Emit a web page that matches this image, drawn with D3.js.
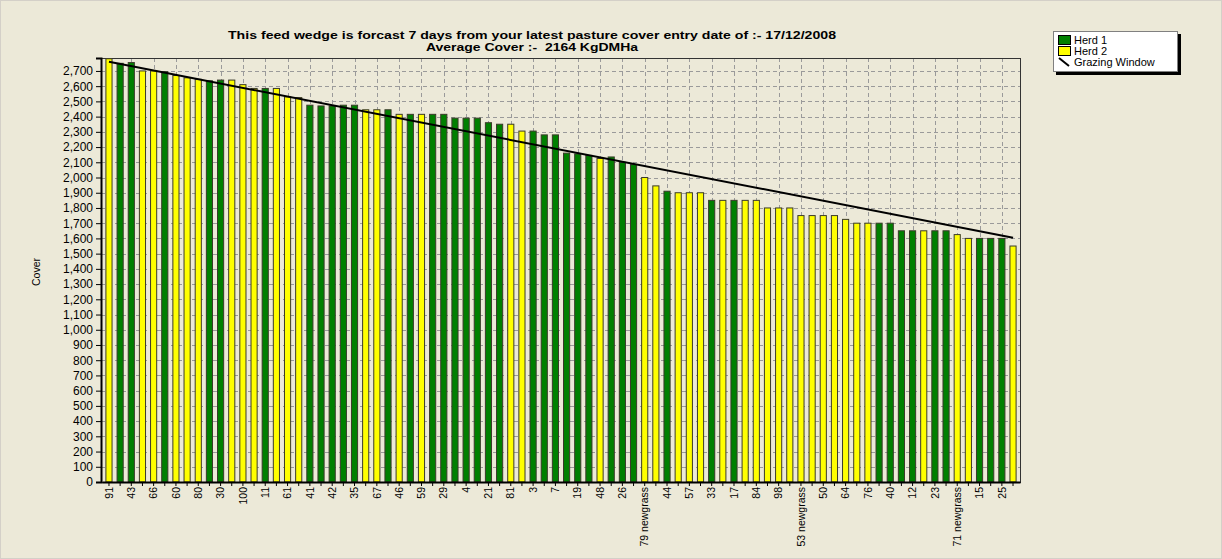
<!DOCTYPE html>
<html>
<head>
<meta charset="utf-8">
<script src="https://cdn.jsdelivr.net/npm/d3@7"></script>
<style>
  html, body { margin: 0; padding: 0; background: #ECE9D8; }
  svg { display: block; font-family: "Liberation Sans", Arial, sans-serif; }
</style>
</head>
<body>
<svg id="chart" width="1222" height="559"></svg>
<script>
// ---- data ----
const titleLines = [
  "This feed wedge is forcast 7 days from your latest pasture cover entry date of :- 17/12/2008",
  "Average Cover :-  2164 KgDMHa"
];
const yAxisTitle = "Cover";
// tick labels shown under every other paddock (even positions)
const shownLabels = ["91","43","66","60","80","30","100","11","61","41","42","35","67","46","59","29","4","21","81","3","7","19","48","26","79 newgrass","44","57","33","17","84","98","53 newgrass","50","64","76","40","12","23","71 newgrass","15","25"];
// herd of each paddock, left to right (1 = Herd 1, 2 = Herd 2)
const herd = [2,1,1,2,2,1,2,2,2,1,1,2,2,2,1,2,2,2,1,1,1,1,1,2,2,1,2,1,2,1,1,1,1,1,1,1,2,2,1,1,1,1,1,1,2,1,1,1,2,2,1,2,2,2,1,2,1,2,2,2,2,2,2,2,2,2,2,2,2,1,1,1,1,2,1,1,2,2,1,1,1,2];
// cover of each paddock (KgDM/Ha)
const cover = [2780,2750,2755,2700,2700,2695,2670,2655,2645,2635,2640,2640,2610,2585,2585,2585,2530,2525,2475,2470,2470,2475,2475,2445,2445,2445,2415,2415,2415,2415,2415,2390,2390,2390,2360,2350,2350,2305,2305,2280,2280,2160,2155,2145,2125,2135,2100,2085,2000,1945,1910,1900,1900,1900,1850,1850,1850,1850,1850,1800,1800,1800,1750,1750,1750,1750,1725,1700,1700,1700,1700,1650,1650,1650,1650,1650,1625,1600,1600,1600,1600,1550];
// grazing window: start and end cover
const grazingWindow = [2760, 1605];
const seriesNames = ["Herd 1", "Herd 2", "Grazing Window"];
const seriesColors = ["#008000", "#FFFF00"];
const yTicks = d3.range(0, 2701, 100);

// ---- layout ----
const svg = d3.select("#chart");
const W = 1222, H = 559;
const plot = { left: 101, right: 1020, top: 58, bottom: 482 };

svg.append("rect").attr("x", 0.5).attr("y", 0.5).attr("width", W - 1).attr("height", H - 1)
  .attr("fill", "#ECE9D8").attr("stroke", "#D4D0C8");

const idx = d3.range(cover.length);
const x = d3.scaleBand().domain(idx).range([plot.left + 1, plot.right])
  .paddingInner(0.45).paddingOuter(0.35);
const y = d3.scaleLinear().domain([0, 2785]).range([plot.bottom, plot.top]);
const cx = i => x(i) + x.bandwidth() / 2;

// grid
const g = svg.append("g");
g.selectAll("line.hg").data(yTicks.filter(d => d > 0)).join("line")
  .attr("x1", plot.left).attr("x2", plot.right)
  .attr("y1", d => Math.round(y(d)) + 0.5).attr("y2", d => Math.round(y(d)) + 0.5)
  .attr("stroke", "#9a9a9a").attr("stroke-dasharray", "4,3");
g.selectAll("line.vg").data(idx.filter(i => i % 2 === 0)).join("line")
  .attr("x1", d => Math.round(cx(d)) + 0.5).attr("x2", d => Math.round(cx(d)) + 0.5)
  .attr("y1", plot.top).attr("y2", plot.bottom)
  .attr("stroke", "#9a9a9a").attr("stroke-dasharray", "4,3");

// plot frame
svg.append("rect").attr("x", plot.left + 0.5).attr("y", plot.top + 0.5)
  .attr("width", plot.right - plot.left).attr("height", plot.bottom - plot.top)
  .attr("fill", "none").attr("stroke", "#333");

// bars
svg.append("g").selectAll("rect").data(idx).join("rect")
  .attr("x", i => x(i))
  .attr("y", i => y(cover[i]))
  .attr("width", x.bandwidth())
  .attr("height", i => y(0) - y(cover[i]))
  .attr("fill", i => seriesColors[herd[i] - 1])
  .attr("stroke", "#3a3a2a").attr("stroke-width", 1);

// grazing window line
const gwData = [{ i: 0, v: grazingWindow[0] }, { i: cover.length - 1, v: grazingWindow[1] }];
svg.append("path").datum(gwData)
  .attr("d", d3.line().x(d => cx(d.i)).y(d => y(d.v)))
  .attr("stroke", "#000").attr("stroke-width", 2).attr("fill", "none");

// y axis
const yAxis = svg.append("g").attr("transform", `translate(${plot.left},0)`)
  .call(d3.axisLeft(y).tickValues(yTicks).tickFormat(d3.format(",")).tickSize(5).tickPadding(3));
yAxis.select(".domain").attr("stroke", "#000").attr("stroke-width", 2);
yAxis.selectAll("text").attr("font-size", 12).attr("fill", "#000")
  .attr("font-family", "'Liberation Sans', Arial, sans-serif");

// x axis
const xAxis = svg.append("g").attr("transform", `translate(0,${plot.bottom})`)
  .call(d3.axisBottom(x).tickSize(4).tickSizeOuter(0)
    .tickFormat(i => i % 2 === 0 ? shownLabels[i / 2] : ""));
xAxis.select(".domain").attr("stroke", "#000").attr("stroke-width", 2);
xAxis.selectAll("text").attr("font-size", 10.5).attr("fill", "#000")
  .attr("font-family", "'Liberation Sans Narrow', 'Liberation Sans', Arial, sans-serif")
  .attr("transform", "rotate(-90)")
  .attr("text-anchor", "end")
  .attr("y", 0).attr("x", -5)
  .attr("dy", "0.35em");

// y title
svg.append("text").attr("transform", "translate(40,272) rotate(-90)")
  .attr("text-anchor", "middle").attr("font-size", 10.5).text(yAxisTitle);

// title
const titleWidths = [608, 212];
svg.append("g").selectAll("text").data(titleLines).join("text")
  .attr("x", 532).attr("y", (d, i) => 39 + i * 11.5)
  .attr("text-anchor", "middle").attr("font-weight", "bold").attr("font-size", 11.5)
  .attr("textLength", (d, i) => titleWidths[i]).attr("lengthAdjust", "spacingAndGlyphs")
  .style("white-space", "pre")
  .text(d => d);

// legend
const lg = svg.append("g").attr("transform", "translate(1053,31)");
lg.append("rect").attr("x", 3).attr("y", 3).attr("width", 125).attr("height", 41).attr("fill", "#000");
lg.append("rect").attr("x", 0.5).attr("y", 0.5).attr("width", 124).attr("height", 40)
  .attr("fill", "#fff").attr("stroke", "#808080");
seriesNames.forEach((name, k) => {
  const yy = 4 + k * 11;
  if (k < 2) {
    lg.append("rect").attr("x", 5.5).attr("y", yy + 0.5).attr("width", 12).attr("height", 9)
      .attr("fill", seriesColors[k]).attr("stroke", "#000");
  } else {
    lg.append("line").attr("x1", 6).attr("y1", yy + 1).attr("x2", 16).attr("y2", yy + 9)
      .attr("stroke", "#000").attr("stroke-width", 2);
  }
  lg.append("text").attr("x", 21).attr("y", yy + 9).attr("font-size", 11).text(name);
});
</script>
</body>
</html>
